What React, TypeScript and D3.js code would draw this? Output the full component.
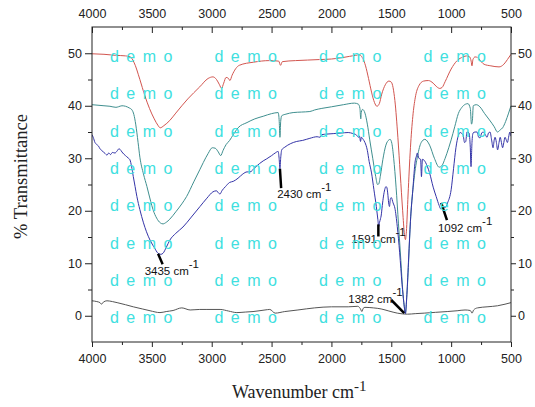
import { useEffect, useRef } from "react";
import * as d3 from "d3";

const width = 535;
const height = 407;
const margin = { top: 27, right: 24, bottom: 65, left: 92 };

const xMajor = [4000, 3500, 3000, 2500, 2000, 1500, 1000, 500];
const xMinor = [3750, 3250, 2750, 2250, 1750, 1250, 750];
const yMajor = [0, 10, 20, 30, 40, 50];
const yMinor = [5, 15, 25, 35, 45];

// [wavenumber, % transmittance]
const redSpectrum: [number, number][] = [
  [4000, 49.9], [3900, 49.8], [3800, 49.6], [3720, 49.5], [3680, 49.3], [3650, 48.3],
  [3600, 45.0], [3560, 42.0], [3520, 39.5], [3480, 37.5], [3450, 36.3], [3430, 35.8],
  [3400, 36.2], [3350, 37.2], [3300, 38.6], [3200, 41.3], [3100, 43.6], [3030, 45.2],
  [2990, 45.5], [2960, 45.0], [2935, 44.0], [2918, 43.3], [2900, 44.3], [2880, 45.4],
  [2860, 45.2], [2848, 44.8], [2830, 45.8], [2770, 47.7], [2650, 48.3], [2520, 48.6],
  [2440, 48.5], [2425, 47.7], [2410, 48.4], [2300, 48.6], [2200, 48.7], [2100, 48.8],
  [2000, 48.9], [1900, 49.2], [1800, 49.6], [1765, 49.7], [1740, 49.1], [1715, 47.6],
  [1690, 45.2], [1665, 42.6], [1640, 40.6], [1620, 39.9], [1600, 40.4], [1580, 42.2],
  [1550, 44.0], [1520, 44.7], [1500, 44.5], [1470, 41.0], [1445, 34.0], [1425, 27.0],
  [1405, 20.0], [1390, 15.5], [1382, 14.5], [1374, 16.0], [1360, 23.0], [1340, 32.0],
  [1320, 38.0], [1300, 41.5], [1270, 43.8], [1230, 44.7], [1190, 44.8], [1150, 44.3],
  [1120, 43.6], [1095, 43.3], [1075, 43.5], [1050, 44.6], [1000, 47.0], [950, 48.6],
  [900, 49.3], [870, 49.5], [845, 49.3], [833, 48.5], [826, 47.6], [818, 48.8],
  [800, 49.3], [780, 49.2], [750, 48.4], [725, 47.9], [668, 47.6], [600, 47.4],
  [560, 47.9], [530, 48.8], [500, 49.8],
];

const tealSpectrum: [number, number][] = [
  [4000, 40.2], [3950, 40.1], [3900, 40.0], [3850, 39.9], [3800, 39.7], [3780, 39.8],
  [3750, 40.0], [3720, 39.9], [3690, 39.6], [3666, 39.2], [3650, 38.3], [3635, 36.5],
  [3615, 33.0], [3600, 30.2], [3570, 27.0], [3541, 24.6], [3510, 21.8], [3490, 20.2],
  [3460, 18.6], [3430, 17.7], [3407, 17.5], [3380, 17.8], [3350, 18.4], [3300, 19.8],
  [3250, 21.3], [3210, 22.7], [3150, 25.5], [3100, 27.8], [3070, 29.2], [3030, 30.9],
  [2995, 32.0], [2970, 31.9], [2945, 31.2], [2925, 30.5], [2905, 31.5], [2880, 32.6],
  [2850, 33.4], [2820, 34.5], [2780, 35.8], [2705, 36.8], [2640, 37.5], [2570, 38.0],
  [2500, 38.5], [2445, 38.7], [2436, 37.0], [2430, 34.0], [2424, 37.0], [2415, 38.1],
  [2380, 38.4], [2320, 38.7], [2250, 38.8], [2180, 38.9], [2140, 39.2], [2080, 39.5],
  [2000, 39.8], [1900, 40.2], [1808, 40.5], [1775, 40.3], [1762, 39.5], [1755, 37.5],
  [1750, 38.8], [1740, 39.3], [1720, 38.6], [1700, 36.5], [1680, 33.5], [1655, 30.0],
  [1630, 26.5], [1615, 25.0], [1605, 25.1], [1590, 26.8], [1570, 29.8], [1545, 32.5],
  [1520, 33.5], [1510, 33.6], [1495, 32.8], [1480, 30.0], [1460, 24.5], [1440, 17.5],
  [1420, 10.5], [1405, 5.0], [1392, 1.8], [1382, 0.5], [1372, 3.0], [1360, 8.0],
  [1340, 18.0], [1310, 26.0], [1280, 30.5], [1250, 33.0], [1220, 33.6], [1180, 32.5],
  [1140, 30.0], [1100, 28.3], [1080, 28.5], [1050, 30.0], [1020, 32.0], [1000, 33.5],
  [970, 36.0], [940, 38.5], [910, 39.7], [880, 40.3], [860, 40.4], [840, 39.5],
  [830, 36.5], [823, 37.0], [815, 40.0], [790, 40.2], [760, 39.8], [720, 38.5],
  [680, 37.3], [640, 36.0], [613, 35.0], [590, 35.4], [570, 35.8], [545, 37.0],
  [520, 38.6], [500, 40.0],
];

const blueSpectrum: [number, number][] = [
  [4000, 34.5], [3990, 34.0], [3975, 33.0], [3960, 32.6], [3945, 32.3], [3933, 31.8],
  [3920, 31.5], [3905, 31.2], [3890, 30.9], [3875, 30.6], [3860, 31.0], [3845, 30.7],
  [3830, 31.1], [3808, 31.0], [3790, 31.4], [3775, 31.8], [3766, 31.7], [3750, 31.2],
  [3735, 30.8], [3720, 30.5], [3710, 30.3], [3695, 30.0], [3683, 29.7], [3670, 28.5],
  [3655, 26.5], [3640, 24.6], [3625, 22.7], [3600, 20.2], [3570, 17.7], [3545, 16.0],
  [3515, 14.4], [3480, 13.0], [3448, 11.9], [3425, 11.7], [3407, 11.9], [3380, 13.0],
  [3350, 14.4], [3300, 15.7], [3240, 16.9], [3170, 18.8], [3098, 20.8], [3040, 22.4],
  [2990, 23.6], [2960, 23.8], [2940, 23.3], [2930, 23.2], [2915, 23.8], [2885, 24.6],
  [2850, 25.4], [2820, 25.6], [2780, 26.2], [2740, 27.0], [2705, 27.4], [2680, 27.4],
  [2640, 28.2], [2600, 29.0], [2570, 29.5], [2540, 29.9], [2500, 30.5], [2470, 31.0],
  [2445, 31.3], [2437, 30.0], [2430, 28.0], [2424, 30.0], [2415, 31.6], [2390, 32.1],
  [2340, 32.8], [2290, 33.2], [2240, 33.4], [2180, 33.8], [2120, 34.1], [2095, 34.0],
  [2080, 34.5], [2040, 34.6], [1980, 34.7], [1920, 34.8], [1860, 34.9], [1820, 34.7],
  [1790, 34.4], [1775, 34.0], [1765, 34.2], [1757, 33.2], [1750, 34.0], [1735, 33.6],
  [1720, 33.0], [1700, 31.5], [1685, 29.4], [1665, 27.2], [1645, 24.0], [1625, 20.8],
  [1612, 18.3], [1605, 17.0], [1598, 17.8], [1590, 18.5], [1585, 19.0], [1575, 21.0],
  [1565, 22.8], [1555, 24.0], [1545, 24.6], [1538, 24.5], [1530, 23.4], [1522, 21.5],
  [1515, 20.8], [1508, 22.2], [1500, 22.5], [1485, 21.5], [1470, 20.5], [1450, 17.0],
  [1430, 12.0], [1410, 6.0], [1395, 2.5], [1382, 0.4], [1370, 4.0], [1355, 11.0],
  [1340, 18.0], [1320, 24.0], [1300, 29.5], [1290, 30.4], [1282, 31.0], [1270, 30.0],
  [1255, 29.8], [1248, 26.5], [1240, 29.8], [1225, 29.6], [1200, 28.5], [1180, 27.2],
  [1150, 24.5], [1125, 22.7], [1100, 21.0], [1085, 20.3], [1070, 20.8], [1050, 20.6],
  [1030, 21.5], [1000, 24.0], [980, 28.0], [960, 32.0], [940, 34.3], [925, 34.9],
  [900, 34.4], [888, 33.0], [878, 33.2], [868, 35.0], [850, 34.8], [840, 32.0],
  [834, 28.4], [826, 33.0], [817, 34.8], [800, 35.0], [783, 35.0], [770, 34.0],
  [758, 33.9], [745, 34.8], [733, 35.0], [715, 34.5], [700, 34.0], [688, 34.8],
  [675, 35.0], [662, 33.5], [650, 32.0], [640, 33.5], [633, 34.0], [622, 33.0],
  [612, 31.6], [600, 33.0], [590, 34.0], [580, 33.0], [570, 32.0], [560, 33.0],
  [550, 34.0], [540, 33.5], [530, 33.0], [520, 34.0], [510, 35.0], [500, 34.2],
];

const baseSpectrum: [number, number][] = [
  [4000, 2.85], [3960, 2.7], [3933, 2.5], [3920, 2.2], [3905, 2.6], [3875, 2.85],
  [3830, 2.7], [3790, 2.5], [3720, 2.1], [3655, 1.7], [3580, 1.3], [3515, 0.95],
  [3432, 0.6], [3380, 0.8], [3323, 1.0], [3250, 1.5], [3180, 1.1], [3100, 1.2],
  [3040, 1.2], [2930, 1.2], [2860, 0.9], [2790, 0.6], [2720, 0.7], [2655, 0.8],
  [2555, 1.1], [2515, 1.2], [2470, 0.5], [2390, 0.8], [2280, 1.1], [2140, 1.5],
  [2000, 1.7], [1860, 1.7], [1780, 1.8], [1760, 1.4], [1745, 0.8], [1735, 1.4],
  [1720, 1.6], [1650, 1.5], [1585, 1.3], [1520, 0.9], [1450, 0.5], [1365, 0.3],
  [1300, 0.4], [1225, 0.5], [1130, 0.65], [1033, 0.8], [950, 0.95], [884, 1.1],
  [840, 1.0], [825, 0.5], [812, 1.1], [780, 1.5], [700, 1.7], [612, 1.9],
  [550, 2.2], [500, 2.5],
];

const spectra = [
  { name: "base", data: baseSpectrum, color: "#555555" },
  { name: "red", data: redSpectrum, color: "#d2554f" },
  { name: "teal", data: tealSpectrum, color: "#3f8f8f" },
  { name: "blue", data: blueSpectrum, color: "#3434a8" },
];

// leader line from tip to end (data units), label offset from end (px)
const peaks = [
  { label: "3435", tip: [3448, 11.8], end: [3410, 9.8], dx: -18, dy: 11 },
  { label: "2430", tip: [2430, 28.0], end: [2420, 24.3], dx: -4, dy: 10 },
  { label: "1591", tip: [1608, 17.4], end: [1608, 15.1], dx: -27, dy: 7 },
  { label: "1092", tip: [1083, 21.5], end: [1035, 18.2], dx: -9, dy: 12 },
  { label: "1382", tip: [1392, 0.5], end: [1500, 3.0], dx: -43, dy: 3 },
];

const x = d3.scaleLinear().domain([4000, 500]).range([margin.left, width - margin.right]);
const y = d3.scaleLinear().domain([-5, 55]).range([height - margin.bottom, margin.top]);

const line = d3
  .line<[number, number]>()
  .x((d) => x(d[0]))
  .y((d) => y(d[1]))
  .curve(d3.curveMonotoneX);

const tickFont = "Arial, 'Liberation Sans', sans-serif";
const serif = "'Times New Roman', 'Liberation Serif', serif";

export default function App() {
  const axesRef = useRef<SVGGElement>(null);

  useEffect(() => {
    const g = d3.select(axesRef.current);
    g.selectAll("*").remove();
    const bottom = height - margin.bottom;
    const right = width - margin.right;

    const style = (sel: d3.Selection<SVGGElement, unknown, null, undefined>) => {
      sel.select(".domain").remove();
      sel.selectAll("line").attr("stroke", "#222");
      sel.selectAll("text").attr("font-size", 12.5).attr("font-family", tickFont).attr("fill", "#222");
    };

    g.append("g").attr("transform", `translate(0,${bottom})`)
      .call(d3.axisBottom(x).tickValues(xMajor).tickSize(5).tickPadding(7).tickFormat(d3.format("d")))
      .call(style);
    g.append("g").attr("transform", `translate(0,${bottom})`)
      .call(d3.axisBottom(x).tickValues(xMinor).tickSize(3).tickFormat(() => ""))
      .call(style);

    g.append("g").attr("transform", `translate(0,${margin.top})`)
      .call(d3.axisTop(x).tickValues(xMajor).tickSize(-6).tickPadding(9).tickFormat(d3.format("d")))
      .call(style);
    g.append("g").attr("transform", `translate(0,${margin.top})`)
      .call(d3.axisTop(x).tickValues(xMinor).tickSize(-3).tickFormat(() => ""))
      .call(style);

    g.append("g").attr("transform", `translate(${margin.left},0)`)
      .call(d3.axisLeft(y).tickValues(yMajor).tickSize(7).tickPadding(3))
      .call(style);
    g.append("g").attr("transform", `translate(${margin.left},0)`)
      .call(d3.axisLeft(y).tickValues(yMinor).tickSize(4).tickFormat(() => ""))
      .call(style);

    g.append("g").attr("transform", `translate(${right},0)`)
      .call(d3.axisRight(y).tickValues(yMajor).tickSize(5).tickPadding(2))
      .call(style);
    g.append("g").attr("transform", `translate(${right},0)`)
      .call(d3.axisRight(y).tickValues(yMinor).tickSize(3).tickFormat(() => ""))
      .call(style);
  }, []);

  const plotW = width - margin.left - margin.right;
  const plotH = height - margin.top - margin.bottom;

  const marks: { x: number; y: number }[] = [];
  for (let r = 0; r < 8; r++) {
    for (let c = 0; c < 4; c++) {
      marks.push({ x: 110 + c * 104.5, y: 62 + r * 37.3 });
    }
  }

  return (
    <svg
      width={width}
      height={height}
      viewBox={`0 0 ${width} ${height}`}
      style={{ position: "absolute", left: 0, top: 0, background: "#fff" }}
    >
      <defs>
        <clipPath id="plot-clip">
          <rect x={margin.left} y={margin.top} width={plotW} height={plotH} />
        </clipPath>
      </defs>

      <g clipPath="url(#plot-clip)">
        {spectra.map((s) => (
          <path key={s.name} d={line(s.data) ?? ""} fill="none" stroke={s.color} strokeWidth={1} />
        ))}
      </g>

      <g className="peaks">
        {peaks.map((p) => {
          const ex = x(p.end[0]);
          const ey = y(p.end[1]);
          return (
            <g key={p.label}>
              <line x1={x(p.tip[0])} y1={y(p.tip[1])} x2={ex} y2={ey} stroke="#000" strokeWidth={2.5} />
              <text x={ex + p.dx} y={ey + p.dy} fontSize={11.5} fontFamily={tickFont} fill="#111">
                {p.label} cm
                <tspan dy={-7}>-1</tspan>
              </text>
            </g>
          );
        })}
      </g>

      <g className="watermark">
        {marks.map((m, i) => (
          <text
            key={i}
            x={m.x}
            y={m.y}
            fontSize={16}
            letterSpacing={1.5}
            fontFamily={tickFont}
            fill="#40e0e0"
          >
            d e m o
          </text>
        ))}
      </g>

      <rect x={margin.left} y={margin.top} width={plotW} height={plotH} fill="none" stroke="#222" strokeWidth={1} />
      <g ref={axesRef} />

      <text
        transform={`translate(27,${margin.top + plotH / 2 - 8}) rotate(-90)`}
        textAnchor="middle"
        fontSize={18.5}
        fontFamily={serif}
        fill="#222"
      >
        % Transmittance
      </text>
      <text x={232} y={398} fontSize={18} fontFamily={serif} fill="#222">
        Wavenumber cm
        <tspan dy={-7} fontSize={15}>-1</tspan>
      </text>
    </svg>
  );
}
